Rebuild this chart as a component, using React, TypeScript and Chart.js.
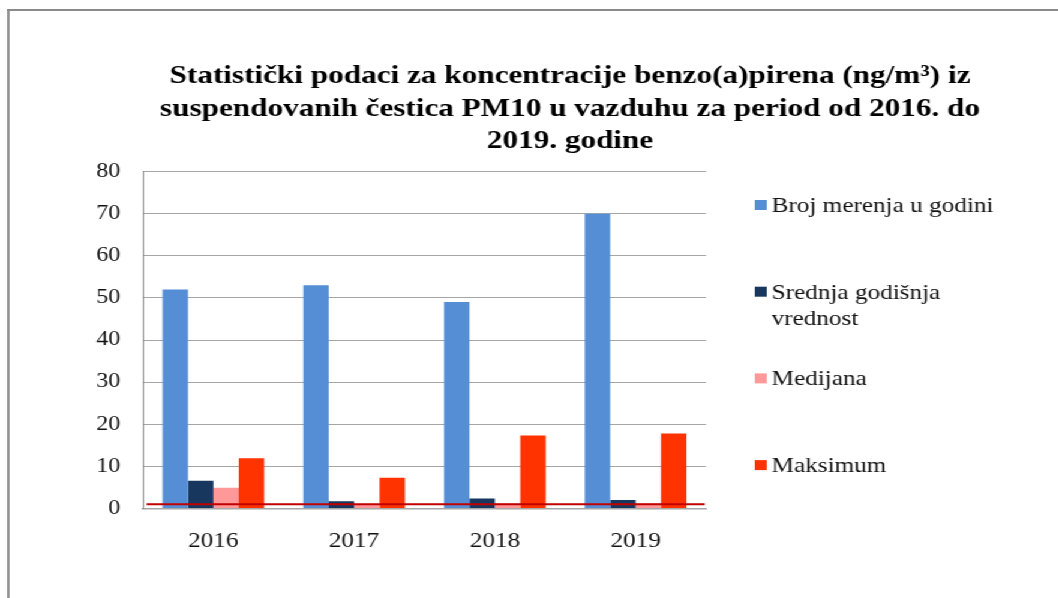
import React, { useEffect, useRef } from "react";
import { Chart, registerables } from "chart.js";

Chart.register(...registerables);

const CATEGORIES = ["2016", "2017", "2018", "2019"];
const BROJ_MERENJA = [52, 53, 49, 70];
const SREDNJA = [6.6, 1.7, 2.4, 2.0];
const MEDIJANA = [4.9, 1.0, 1.2, 1.2];
const MAKSIMUM = [11.9, 7.3, 17.3, 17.8];
const LIMIT_VALUE = 1;

const SERIES_LABELS = ["Broj merenja u godini", "Srednja godišnja vrednost", "Medijana", "Maksimum"];
const SERIES_COLORS = ["#558ED5", "#17375E", "#FF9999", "#FF3300"];
const TITLE_LINES = [
  "Statistički podaci za koncentracije benzo(a)pirena (ng/m³) iz",
  "suspendovanih čestica PM10 u vazduhu za period od 2016. do",
  "2019. godine",
];
const Y_MIN = 0;
const Y_MAX = 80;
const Y_STEP = 10;

const STRETCH = 1.2;
const CW = 882;
const CH = 598;
const FONT = '"Liberation Serif", "Times New Roman", serif';

const decorPlugin = {
  id: "decor",
  afterDatasetsDraw(chart: any) {
    const { ctx, chartArea } = chart;
    const y = chart.scales.y.getPixelForValue(LIMIT_VALUE);
    ctx.save();
    ctx.strokeStyle = "#C00000";
    ctx.lineWidth = 2;
    ctx.beginPath();
    ctx.moveTo(chartArea.left + 3, y);
    ctx.lineTo(chartArea.right - 1, y);
    ctx.stroke();
    ctx.restore();
  },
  afterDraw(chart: any) {
    const { ctx } = chart;
    ctx.save();
    // title
    ctx.fillStyle = "#000";
    ctx.font = `bold 26px ${FONT}`;
    ctx.textAlign = "center";
    ctx.textBaseline = "alphabetic";
    const titleX = 475;
    const baselines = [83, 115.5, 148];
    TITLE_LINES.forEach((line, i) => ctx.fillText(line, titleX, baselines[i]));

    // legend
    ctx.font = `21px ${FONT}`;
    ctx.textAlign = "left";
    const boxX = 629;
    const textX = 643;
    const startY = 205;
    const stepY = 86.7;
    const maxW = 195;
    chart.data.datasets.forEach((ds: any, i: number) => {
      const cy = startY + i * stepY;
      ctx.fillStyle = ds.backgroundColor;
      ctx.fillRect(boxX, cy - 5, 10, 10);
      ctx.fillStyle = "#111";
      const words = String(ds.label).split(" ");
      const lines: string[] = [];
      let cur = "";
      words.forEach((w) => {
        const test = cur ? cur + " " + w : w;
        if (ctx.measureText(test).width > maxW && cur) {
          lines.push(cur);
          cur = w;
        } else cur = test;
      });
      lines.push(cur);
      lines.forEach((l, j) => ctx.fillText(l, textX, cy + 7 + j * 26));
    });
    ctx.restore();
  },
};

export default function App() {
  const ref = useRef<HTMLCanvasElement | null>(null);
  useEffect(() => {
    const canvas = ref.current;
    if (!canvas) return;
    const values = [BROJ_MERENJA, SREDNJA, MEDIJANA, MAKSIMUM];
    const chart = new Chart(canvas, {
      type: "bar",
      data: {
        labels: CATEGORIES,
        datasets: values.map((v, i) => ({
          label: SERIES_LABELS[i],
          data: v,
          backgroundColor: SERIES_COLORS[i],
          borderWidth: 0,
          categoryPercentage: 0.722,
          barPercentage: 1,
        })),
      },
      options: {
        animation: false,
        responsive: false,
        devicePixelRatio: 1,
        layout: { padding: { top: 171.5, left: 0, right: CW - 588.3, bottom: 29.5 } },
        plugins: {
          legend: { display: false },
          title: { display: false },
          tooltip: { enabled: false },
        },
        scales: {
          x: {
            grid: { display: false, drawTicks: false },
            border: { display: true, color: "#a6a6a6", width: 1.5 },
            ticks: { color: "#111", font: { family: FONT, size: 21 }, padding: 20 },
            afterFit: (s: any) => {
              s.height = 60;
            },
          },
          y: {
            min: Y_MIN,
            max: Y_MAX,
            ticks: { stepSize: Y_STEP, color: "#111", font: { family: FONT, size: 20 }, padding: 19 },
            grid: { color: "#a6a6a6", lineWidth: 1, drawTicks: false },
            border: { display: true, color: "#8c8c8c", width: 1 },
            afterFit: (s: any) => {
              s.width = 119.2;
            },
          },
        },
      },
      plugins: [decorPlugin],
    } as any);
    return () => chart.destroy();
  }, []);

  return (
    <div
      style={{
        position: "fixed",
        left: 0,
        top: 0,
        width: 1058,
        height: 598,
        overflow: "hidden",
        background: "#fff",
      }}
    >
      <div
        style={{
          position: "absolute",
          left: 0,
          top: 0,
          width: CW,
          height: CH,
          transform: `scaleX(${STRETCH})`,
          transformOrigin: "0 0",
        }}
      >
        <div
          style={{
            position: "absolute",
            left: 5.6,
            top: 9,
            width: 1000,
            height: 700,
            borderLeft: "2px solid #8a8a8a",
            borderTop: "2px solid #8a8a8a",
          }}
        />
        <canvas
          ref={ref}
          width={CW}
          height={CH}
          style={{ position: "absolute", left: 0, top: 0, width: CW, height: CH }}
        />
      </div>
    </div>
  );
}
